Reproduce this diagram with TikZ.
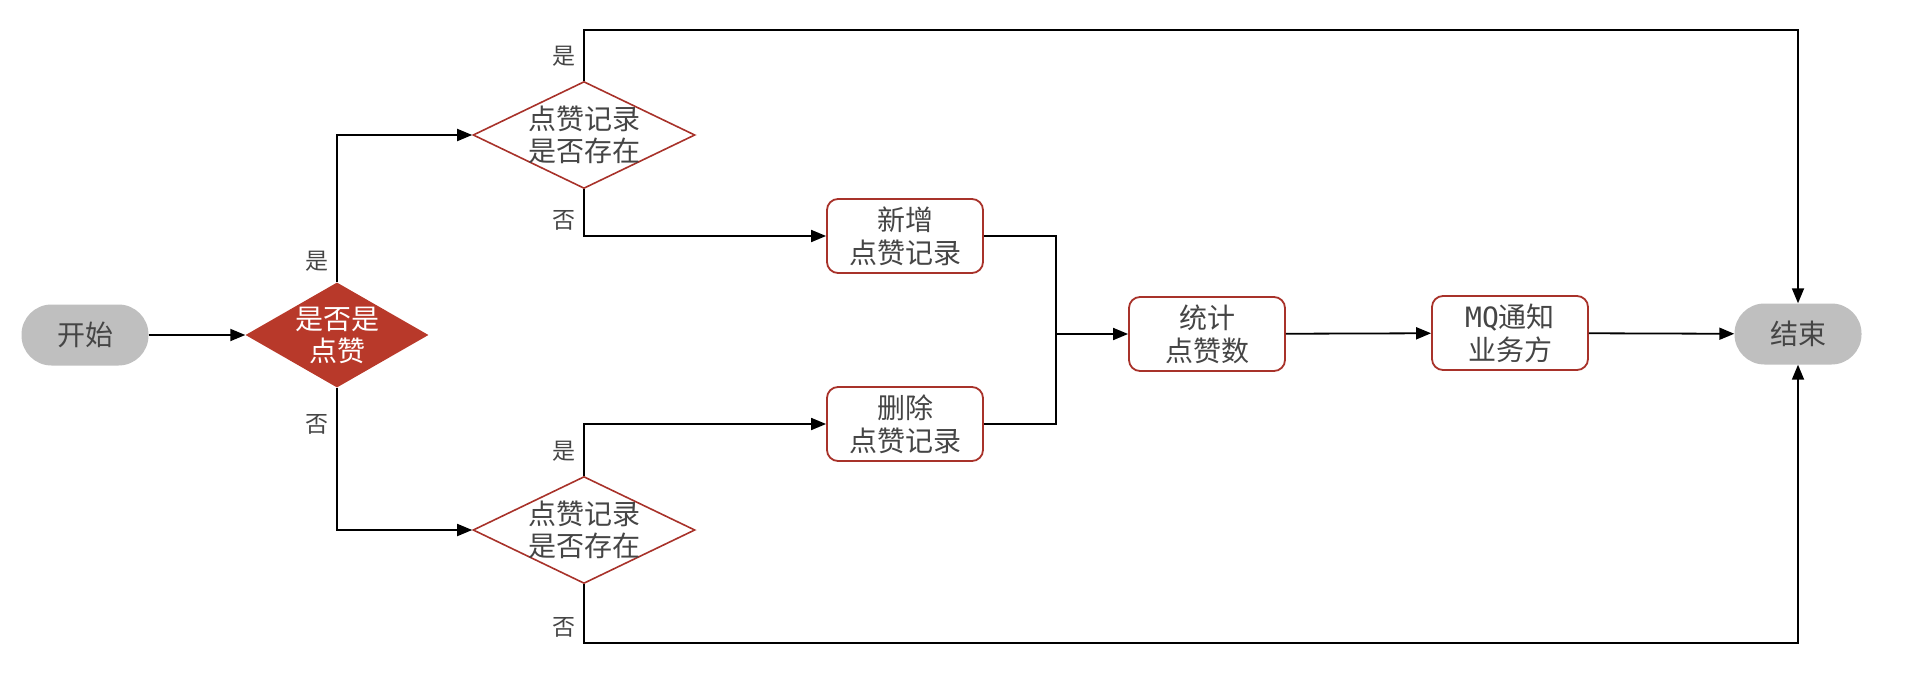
\documentclass[tikz,border=0pt]{standalone}
\usepackage{fontspec}
\newfontfamily\cjk{Noto Sans CJK SC}
\newfontfamily\mono{DejaVu Sans Mono}
\usetikzlibrary{shapes.geometric,arrows.meta,positioning,calc}
\definecolor{cRed}{HTML}{B8392A}
\definecolor{cEdge}{HTML}{A8322A}
\definecolor{cTerm}{HTML}{BFBFBF}
\definecolor{cText}{HTML}{454545}
\tikzset{
  term/.style ={rectangle, rounded corners=30pt, fill=cTerm, text=cText,
                minimum width=127pt, minimum height=61pt,
                font=\cjk\fontsize{28}{33}\selectfont},
  act/.style  ={rectangle, rounded corners=11pt, draw=cEdge, line width=1.8pt,
                fill=white, text=cText, align=center, inner sep=0pt,
                minimum width=156pt, minimum height=74pt,
                font=\cjk\fontsize{28}{33}\selectfont},
  chk/.style  ={diamond, aspect=2.07, draw=cEdge, line width=1.6pt, fill=white,
                text=cText, align=center, inner sep=-6pt,
                minimum width=222pt, minimum height=107pt,
                font=\cjk\fontsize{28}{32}\selectfont},
  cond/.style ={diamond, aspect=1.74, fill=cRed, text=white, align=center,
                inner sep=0pt, minimum width=183pt, minimum height=105pt,
                font=\cjk\fontsize{28}{32}\selectfont},
  fl/.style   ={-{Triangle[length=15pt,width=12pt]}, line width=1.8pt},
  ln/.style   ={line width=1.8pt},
  lbl/.style  ={font=\cjk\fontsize{23}{23}\selectfont, text=cText, inner sep=8pt},
}
\begin{document}
\begin{tikzpicture}[x=1pt,y=-1pt]
  \useasboundingbox (0,0) rectangle (1912,677);
  \node[term] (start) at (85,335) {开始};
  \node[cond] (like) at (337,335) {是否是\\点赞};
  \node[chk] (chk1) at (584,135) {点赞记录\\是否存在};
  \node[chk] (chk2) at (584,530) {点赞记录\\是否存在};
  \node[act] (add) at (905,236) {新增\\点赞记录};
  \node[act] (del) at (905,424) {删除\\点赞记录};
  \node[act] (stat) at (1207,334) {统计\\点赞数};
  \node[act] (mq) at (1510,333) {{\mono MQ}通知\\业务方};
  \node[term] (end) at (1798,334) {结束};
  \coordinate (jn) at (1056,334);
  \coordinate (topln) at (1200,30);
  \coordinate (botln) at (1200,643);

  \draw[fl] (start) -- (like);
  \draw[fl] (like.north) |- (chk1.west) node[lbl,pos=0.07,left]{是};
  \draw[fl] (like.south) |- (chk2.west) node[lbl,pos=0.13,left]{否};
  \draw[fl] (chk1.south) |- (add.west) node[lbl,pos=0.33,left]{否};
  \draw[fl] (chk2.north) |- (del.west) node[lbl,pos=0.24,left]{是};
  \draw[fl] (chk1.north) |- (topln) node[lbl,pos=0.24,left]{是} -| (end.north);
  \draw[fl] (chk2.south) |- (botln) node[lbl,pos=0.37,left]{否} -| (end.south);
  \draw[ln] (add.east) -| (jn);
  \draw[ln] (del.east) -| (jn);
  \draw[fl] (jn) -- (stat);
  \draw[fl] (stat) -- (mq);
  \draw[fl] (mq) -- (end);
\end{tikzpicture}
\end{document}
